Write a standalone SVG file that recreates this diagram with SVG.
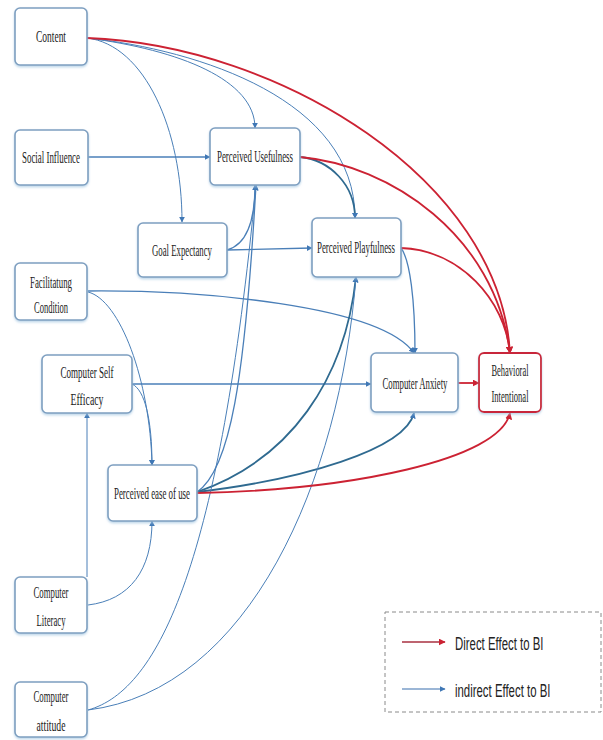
<svg xmlns="http://www.w3.org/2000/svg" width="603" height="740" viewBox="0 0 603 740">
<style>
.box{fill:#fff;stroke:#7e9fc0;stroke-width:1.6}
.bi{fill:#fff;stroke:#c8283a;stroke-width:1.8}
.t{font-family:"Liberation Serif","Times New Roman",serif;font-size:16px;fill:#222;text-anchor:middle}
.lg{font-family:"Liberation Sans",Arial,sans-serif;font-size:19px;fill:#222}
.b{fill:none;stroke:#4a7fb8;stroke-width:1.3;marker-end:url(#ab)}
.bt{fill:none;stroke:#4a7fb8;stroke-width:1;marker-end:url(#ab)}
.bd{fill:none;stroke:#2f6a90;stroke-width:1.8;marker-end:url(#ab)}
.r{fill:none;stroke:#cc2233;stroke-width:1.8;marker-end:url(#ar)}
</style>
<defs>
<marker id="ab" viewBox="0 0 10 10" refX="9" refY="5" markerWidth="6" markerHeight="6" markerUnits="userSpaceOnUse" orient="auto"><path d="M0,0 L10,5 L0,10 z" fill="#3f77b5"/></marker>
<marker id="ar" viewBox="0 0 10 10" refX="9" refY="5" markerWidth="7" markerHeight="7" markerUnits="userSpaceOnUse" orient="auto"><path d="M0,0 L10,5 L0,10 z" fill="#cc2233"/></marker>
<filter id="sh" x="-10%" y="-10%" width="120%" height="130%"><feDropShadow dx="0" dy="1.5" stdDeviation="1.2" flood-color="#9fc3e0" flood-opacity="0.7"/></filter>
</defs>
<g id="connectors">
<path class="bt" d="M87,38 C145,45 182,130 182,222"/>
<path class="bt" d="M87,38 C180,50 255,80 255,128"/>
<path class="bt" d="M87,38 C200,50 355,100 355,218"/>
<path class="b" d="M88,157 L210,157"/>
<path class="b" d="M227,250 C245,245 255,225 255,185"/>
<path class="b" d="M227,250 L312,248"/>
<path class="bd" d="M300,157 C330,160 355,185 355,218"/>
<path class="b" d="M401,248 C410,260 415,300 415,353"/>
<path class="b" d="M88,291 C200,290 380,305 414,353"/>
<path class="bt" d="M88,292 C120,300 150,380 152,465"/>
<path class="bt" d="M132,384 C145,390 152,420 152,465"/>
<path class="b" d="M132,384 L371,384"/>
<path class="bt" d="M87,577 L87,413"/>
<path class="bt" d="M88,605 C130,600 152,570 152,521"/>
<path class="b" d="M197,492 C230,470 245,380 256,185"/>
<path class="bd" d="M197,492 C290,460 345,380 356,277"/>
<path class="bd" d="M197,492 C300,480 405,450 414,413"/>
<path class="bt" d="M88,710 C160,690 220,560 256,185"/>
<path class="bt" d="M88,710 C250,690 340,480 356,277"/>
<path class="r" d="M87,38 C280,45 500,180 510,353"/>
<path class="r" d="M300,157 C390,165 495,235 510,353"/>
<path class="r" d="M401,248 C460,250 505,300 510,353"/>
<path class="r" d="M458,383 L479,383"/>
<path class="r" d="M197,493 C350,490 500,460 510,413"/>
</g>
<g id="n-content"><rect class="box" filter="url(#sh)" x="15" y="8" width="72" height="57" rx="5"/><text class="t" x="51" y="42" textLength="30" lengthAdjust="spacingAndGlyphs">Content</text></g>
<g id="n-social"><rect class="box" filter="url(#sh)" x="15" y="130" width="73" height="55" rx="5"/><text class="t" x="51" y="163" textLength="58" lengthAdjust="spacingAndGlyphs">Social Influence</text></g>
<g id="n-pu"><rect class="box" filter="url(#sh)" x="210" y="128" width="90" height="57" rx="5"/><text class="t" x="255" y="162" textLength="76" lengthAdjust="spacingAndGlyphs">Perceived Usefulness</text></g>
<g id="n-ge"><rect class="box" filter="url(#sh)" x="138" y="223" width="89" height="54" rx="5"/><text class="t" x="182" y="256" textLength="60" lengthAdjust="spacingAndGlyphs">Goal Expectancy</text></g>
<g id="n-pp"><rect class="box" filter="url(#sh)" x="312" y="218" width="89" height="59" rx="5"/><text class="t" x="356" y="253" textLength="78" lengthAdjust="spacingAndGlyphs">Perceived Playfulness</text></g>
<g id="n-fc"><rect class="box" filter="url(#sh)" x="15" y="263" width="72" height="57" rx="5"/><text class="t" x="51" y="288" textLength="42" lengthAdjust="spacingAndGlyphs">Facilitatung</text><text class="t" x="51" y="313" textLength="34" lengthAdjust="spacingAndGlyphs">Condition</text></g>
<g id="n-cse"><rect class="box" filter="url(#sh)" x="42" y="355" width="90" height="58" rx="5"/><text class="t" x="87" y="378" textLength="53" lengthAdjust="spacingAndGlyphs">Computer Self</text><text class="t" x="87" y="405" textLength="33" lengthAdjust="spacingAndGlyphs">Efficacy</text></g>
<g id="n-ca"><rect class="box" filter="url(#sh)" x="371" y="353" width="87" height="59" rx="5"/><text class="t" x="415" y="389" textLength="65" lengthAdjust="spacingAndGlyphs">Computer Anxiety</text></g>
<g id="n-bi"><rect class="bi" filter="url(#sh)" x="479" y="353" width="62" height="59" rx="5"/><text class="t" x="510" y="376" textLength="37" lengthAdjust="spacingAndGlyphs">Behavioral</text><text class="t" x="510" y="402" textLength="37" lengthAdjust="spacingAndGlyphs">Intentional</text></g>
<g id="n-peou"><rect class="box" filter="url(#sh)" x="108" y="465" width="89" height="56" rx="5"/><text class="t" x="152" y="499" textLength="76" lengthAdjust="spacingAndGlyphs">Perceived ease of use</text></g>
<g id="n-cl"><rect class="box" filter="url(#sh)" x="15" y="577" width="72" height="56" rx="5"/><text class="t" x="51" y="598" textLength="35" lengthAdjust="spacingAndGlyphs">Computer</text><text class="t" x="51" y="626" textLength="29" lengthAdjust="spacingAndGlyphs">Literacy</text></g>
<g id="n-catt"><rect class="box" filter="url(#sh)" x="15" y="682" width="72" height="55" rx="5"/><text class="t" x="51" y="702" textLength="35" lengthAdjust="spacingAndGlyphs">Computer</text><text class="t" x="51" y="731" textLength="29" lengthAdjust="spacingAndGlyphs">attitude</text></g>
<g id="legend">
<rect x="385" y="612" width="216" height="100" fill="#fff" stroke="#8a8a8a" stroke-width="1" stroke-dasharray="4,3"/>
<path d="M402,642 L445,642" fill="none" stroke="#a83040" stroke-width="1.6" marker-end="url(#ar)"/>
<text class="lg" transform="translate(455,650) scale(0.6,1)" x="0" y="0">Direct Effect to BI</text>
<path d="M402,689 L445,689" fill="none" stroke="#7a9ec8" stroke-width="1.3" marker-end="url(#ab)"/>
<text class="lg" transform="translate(455,697) scale(0.6,1)" x="0" y="0">indirect Effect to BI</text>
</g>
</svg>
